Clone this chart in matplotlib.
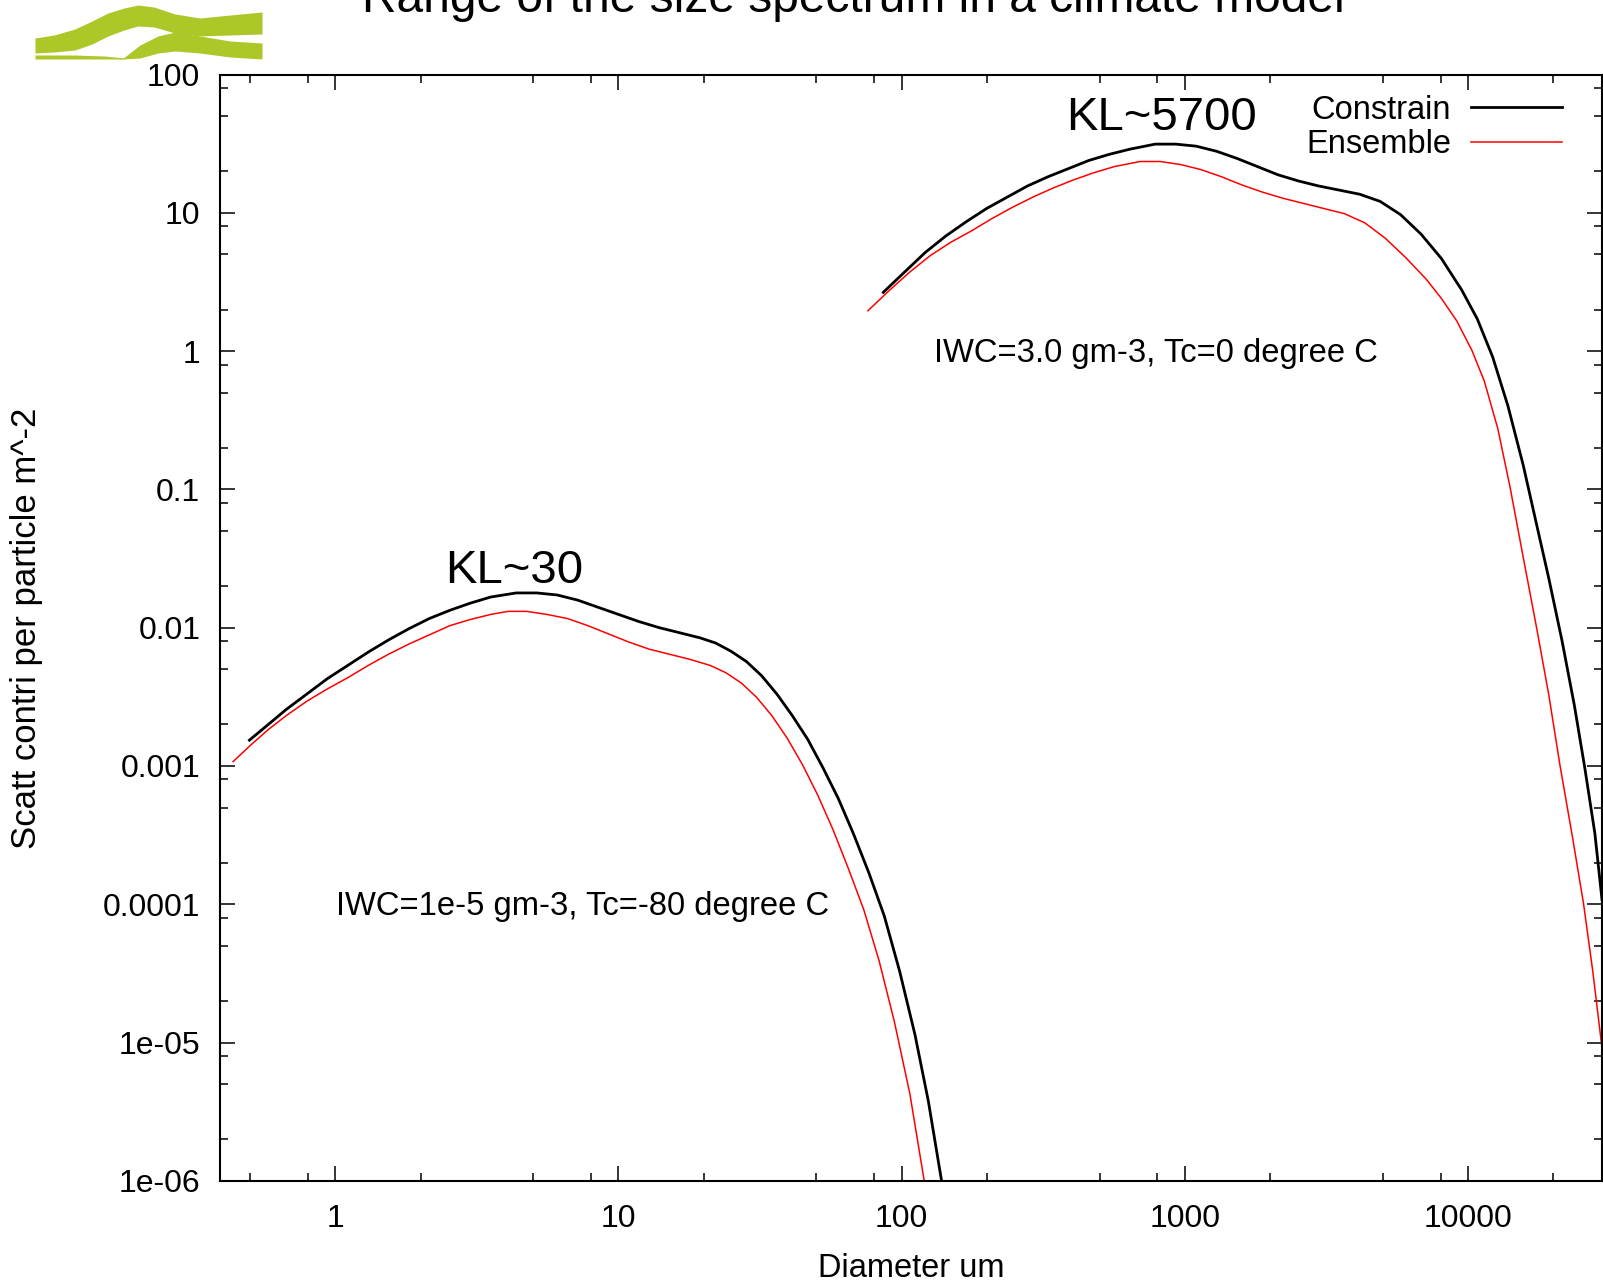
import matplotlib.pyplot as plt
from matplotlib.ticker import FixedLocator, FixedFormatter, LogLocator, NullFormatter

plt.rcParams['font.family'] = ['Liberation Sans', 'DejaVu Sans']

# small ice case: IWC=1e-5 gm-3, Tc=-80 C
d_small_con = [0.4974, 0.5777, 0.6708, 0.7923, 0.9357, 1.105, 1.305, 1.540, 1.819, 2.148, 2.537,
               2.996, 3.538, 4.355, 5.143, 6.074, 7.171, 8.470, 10.0, 11.81, 13.94, 16.47, 19.45,
               22.03, 24.95, 28.27, 32.02, 36.27, 41.09, 46.54, 52.72, 59.72, 67.66, 76.64,
               86.82, 98.35, 111.4, 124.2, 138.3]
s_small_con = [0.001537, 0.001984, 0.002562, 0.003307, 0.00427, 0.005326, 0.006646, 0.008151,
               0.009831, 0.011654, 0.013355, 0.015047, 0.016666, 0.01784, 0.01784, 0.017243,
               0.015835, 0.01405, 0.012473, 0.011075, 0.01, 0.009185, 0.008434, 0.007745,
               0.006761, 0.005702, 0.004494, 0.003307, 0.002312, 0.001563, 0.000971, 0.000582,
               0.000321, 0.000168, 8.22e-5, 3.279e-5, 1.141e-5, 3.773e-6, 1e-6]

d_small_ens = [0.4355, 0.5015, 0.5777, 0.6708, 0.7923, 0.9357, 1.105, 1.305, 1.540, 1.819, 2.148,
               2.537, 2.996, 3.538, 4.075, 4.732, 5.588, 6.600, 7.794, 9.203, 10.87, 12.83, 15.15,
               17.89, 21.13, 23.93, 27.12, 30.72, 34.79, 39.41, 44.65, 50.58, 57.29, 64.91,
               73.51, 83.27, 94.34, 106.9, 120.1]
s_small_ens = [0.001075, 0.001411, 0.001822, 0.002312, 0.002935, 0.003601, 0.004343, 0.005326,
               0.006424, 0.007614, 0.008875, 0.010346, 0.011459, 0.012473, 0.013128, 0.013128,
               0.012473, 0.011654, 0.010346, 0.009029, 0.007878, 0.006995, 0.006424, 0.0059,
               0.005326, 0.004727, 0.003988, 0.003143, 0.002312, 0.00159, 0.001021, 0.000613,
               0.000344, 0.00018, 9.11e-5, 3.886e-5, 1.4e-5, 4.25e-6, 1e-6]

# large ice case: IWC=3.0 gm-3, Tc=0 C
d_large_con = [86.10, 102.5, 121.1, 142.9, 168.8, 199.4, 235.4, 278.0, 328.2, 387.6, 457.7,
               540.6, 638.4, 785.8, 928.0, 1096, 1294, 1528, 1805, 2131, 2516, 2971, 3509, 4143,
               4892, 5778, 6823, 8056, 9513, 10780, 12210, 13830, 15660, 17460, 19290, 21480,
               23740, 25800, 28040, 29720]
s_large_con = [2.662, 3.741, 5.17, 6.787, 8.615, 10.75, 12.97, 15.64, 18.23, 20.88, 23.92, 26.5,
               28.86, 31.42, 31.42, 30.37, 27.9, 24.76, 21.61, 18.86, 17.02, 15.64, 14.61, 13.64,
               12.11, 9.707, 7.024, 4.669, 2.754, 1.71, 0.9106, 0.4021, 0.1499, 0.0558, 0.02264,
               0.008014, 0.002742, 0.000988, 0.0003265, 0.000108]

d_large_ens = [76.03, 90.51, 106.9, 126.2, 149.1, 176.0, 207.8, 245.4, 289.8, 342.2, 404.1,
               477.1, 563.6, 693.7, 819.2, 967.3, 1142, 1349, 1593, 1881, 2221, 2623, 3097, 3658,
               4319, 5100, 6024, 7112, 8056, 9127, 10330, 11420, 12730, 14060, 15660, 17460,
               19290, 21130, 23350, 25580, 27570, 29720]
s_large_ens = [1.96, 2.754, 3.741, 4.913, 6.131, 7.39, 9.07, 10.94, 12.97, 15.11, 17.31, 19.51,
               21.61, 23.52, 23.52, 22.36, 20.53, 18.23, 15.9, 14.12, 12.75, 11.71, 10.75, 9.874,
               8.472, 6.561, 4.748, 3.321, 2.403, 1.652, 1.009, 0.6051, 0.2765, 0.1048, 0.03237,
               0.01, 0.003251, 0.001004, 0.0003103, 0.0001009, 3.279e-5, 9.15e-6]

xticks = [1, 10, 100, 1000, 10000]
xticklabels = ["1", "10", "100", "1000", "10000"]
yticks = [1e-6, 1e-5, 1e-4, 1e-3, 1e-2, 0.1, 1, 10, 100]
yticklabels = ["1e-06", "1e-05", "0.0001", "0.001", "0.01", "0.1", "1", "10", "100"]

# logo wave bands (pixel units, y downwards)
logo_x1 = [1, 20, 41, 58, 74, 90, 104, 120, 141, 166, 196, 228]
logo_top1 = [38, 35, 29, 21, 13, 8, 5, 7, 14, 18, 15, 12]
logo_bot1 = [53, 52, 50, 44, 36, 30, 26, 27, 33, 36, 35, 34]
logo_x2 = [88, 106, 124, 141, 166, 196, 228]
logo_top2 = [59, 45, 36, 32, 36, 41, 43]
logo_bot2 = [59, 58, 53, 51, 53, 57, 59]
logo_x3 = [1, 40, 70, 91]
logo_top3 = [55, 55, 56, 58]

fig = plt.figure(figsize=(16.03, 12.85), dpi=100)
ax = fig.add_axes([219.8 / 1603, 1 - 1180.8 / 1285, (1602 - 219.8) / 1603, (1180.8 - 74.6) / 1285])

ax.plot(d_small_con, s_small_con, color='black', lw=2.0, label='Constrain')
ax.plot(d_small_ens, s_small_ens, color='#ff0000', lw=1.1, label='Ensemble')
ax.plot(d_large_con, s_large_con, color='black', lw=2.0)
ax.plot(d_large_ens, s_large_ens, color='#ff0000', lw=1.1)

ax.set_xscale('log')
ax.set_yscale('log')
ax.set_xlim(0.3909, 29720)
ax.set_ylim(1e-6, 100)

ax.xaxis.set_major_locator(FixedLocator(xticks))
ax.xaxis.set_major_formatter(FixedFormatter(xticklabels))
ax.yaxis.set_major_locator(FixedLocator(yticks))
ax.yaxis.set_major_formatter(FixedFormatter(yticklabels))
for axis in (ax.xaxis, ax.yaxis):
    axis.set_minor_locator(LogLocator(base=10, subs=(2, 5, 8), numticks=100))
    axis.set_minor_formatter(NullFormatter())

ax.tick_params(which='both', direction='in', top=True, right=True, width=1.1)
ax.tick_params(which='major', length=10.8, labelsize=23)
ax.tick_params(axis='x', which='major', pad=16.5)
ax.tick_params(axis='y', which='major', pad=14)
ax.tick_params(which='minor', length=5.8)
for sp in ax.spines.values():
    sp.set_linewidth(1.5)

ax.text(4.28, 0.0259, "KL~30", fontsize=34, ha='center', va='center')
ax.text(826, 48.8, "KL~5700", fontsize=34, ha='center', va='center')
ax.text(792, 0.965, "IWC=3.0 gm-3, Tc=0 degree C", fontsize=23.6, ha='center', va='center')
ax.text(7.48, 0.97e-4, "IWC=1e-5 gm-3, Tc=-80 degree C", fontsize=23.6, ha='center', va='center')

ax.legend(loc='upper right', bbox_to_anchor=(0.9712, 0.982), frameon=False, markerfirst=False,
          fontsize=23.5, handlelength=2.8, handletextpad=0.6, labelspacing=0.11,
          borderpad=0, borderaxespad=0)

fig.text(911 / 1603, 8 / 1285, "Diameter um", fontsize=23.5, ha='center', va='baseline')
fig.text(36 / 1603, 0.5107, "Scatt contri per particle m^-2", fontsize=25, rotation=90,
         rotation_mode='anchor', ha='center', va='baseline')
fig.text(853.6 / 1603, 1 - 12 / 1285, "Range of the size spectrum in a climate model",
         fontsize=34.5, ha='center', va='baseline')

# logo
lax = fig.add_axes([34 / 1603, 1 - 59 / 1285, 229 / 1603, 59 / 1285])
green = '#acc828'
lax.fill_between(logo_x1, logo_top1, logo_bot1, color=green, lw=0)
lax.fill_between(logo_x2, logo_top2, logo_bot2, color=green, lw=0)
lax.fill_between(logo_x3, logo_top3, 59, color=green, lw=0)
lax.set_xlim(0, 229)
lax.set_ylim(59, 0)
lax.axis('off')

fig.savefig('out.png', dpi=100)
